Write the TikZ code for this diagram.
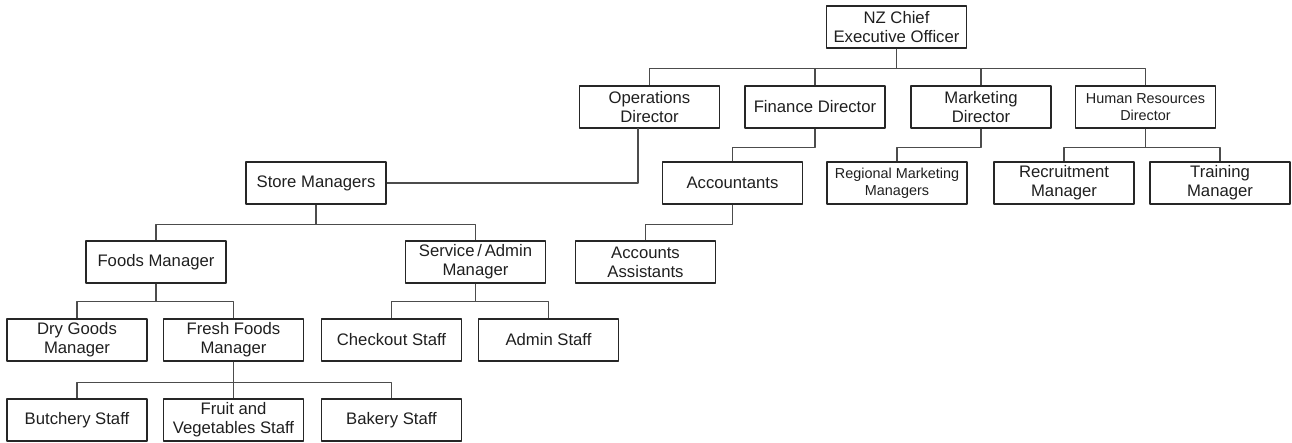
\documentclass[tikz,border=0pt]{standalone}
\usepackage{fontspec}
\setmainfont{Liberation Sans}
\begin{document}
\begin{tikzpicture}[x=0.02cm, y=-0.02cm, line join=round, font=\fontsize{9.5}{10.8}\selectfont]
\tikzset{
  box/.style={draw=black!85, line width=0.8pt, text=black!88, align=center, minimum width=2.8cm, minimum height=0.84cm, inner sep=1pt},
  small/.style={font=\fontsize{8.2}{9.6}\selectfont},
  link/.style={draw=black!70, line width=0.6pt}
}
\useasboundingbox (0,0) rectangle (1292,443);
% top and directors
\node[box] (ceo) at (896.5,27) {NZ Chief\\Executive Officer};
\node[box] (ops) at (649.5,107) {Operations\\Director};
\node[box] (fin) at (815,107) {Finance Director};
\node[box] (mkt) at (981,107) {Marketing\\Director};
\node[box, small] (hr) at (1145.5,107) {Human Resources\\Director};
% second level
\node[box] (store) at (316,183) {Store Managers};
\node[box] (acc) at (732.5,183) {Accountants};
\node[box, small] (reg) at (897,183) {Regional Marketing\\Managers};
\node[box] (rec) at (1064,183) {Recruitment\\Manager};
\node[box] (trn) at (1220,183) {Training\\Manager};
% third level
\node[box] (foods) at (156,262) {Foods Manager};
\node[box] (svc) at (475.5,262) {Service\,/\,Admin\\Manager};
\node[box] (accass) at (645.5,262) {Accounts\\Assistants};
% store floor
\node[box] (dry) at (77,340) {Dry Goods\\Manager};
\node[box] (fresh) at (233.5,340) {Fresh Foods\\Manager};
\node[box] (chk) at (391.5,340) {Checkout Staff};
\node[box] (adm) at (548.5,340) {Admin Staff};
\node[box] (butch) at (77,420) {Butchery Staff};
\node[box] (fruit) at (233.5,420) {Fruit and\\Vegetables Staff};
\node[box] (bake) at (391.5,420) {Bakery Staff};
% connectors
\foreach \d in {ops,fin,mkt,hr} \draw[link] (ceo.south) -- ++(0,20) -| (\d.north);
\draw[link] (fin.south) -- ++(0,19) -| (acc.north);
\draw[link] (mkt.south) -- ++(0,19) -| (reg.north);
\foreach \d in {rec,trn} \draw[link] (hr.south) -- ++(0,19) -| (\d.north);
\coordinate (opsdrop) at (638,128);
\draw[link] (opsdrop) |- (store.east);
\foreach \d in {foods,svc} \draw[link] (store.south) -- ++(0,20) -| (\d.north);
\draw[link] (acc.south) -- ++(0,20) -| (accass.north);
\foreach \d in {dry,fresh} \draw[link] (foods.south) -- ++(0,18) -| (\d.north);
\foreach \d in {chk,adm} \draw[link] (svc.south) -- ++(0,18) -| (\d.north);
\foreach \d in {butch,fruit,bake} \draw[link] (fresh.south) -- ++(0,21) -| (\d.north);
\end{tikzpicture}
\end{document}
